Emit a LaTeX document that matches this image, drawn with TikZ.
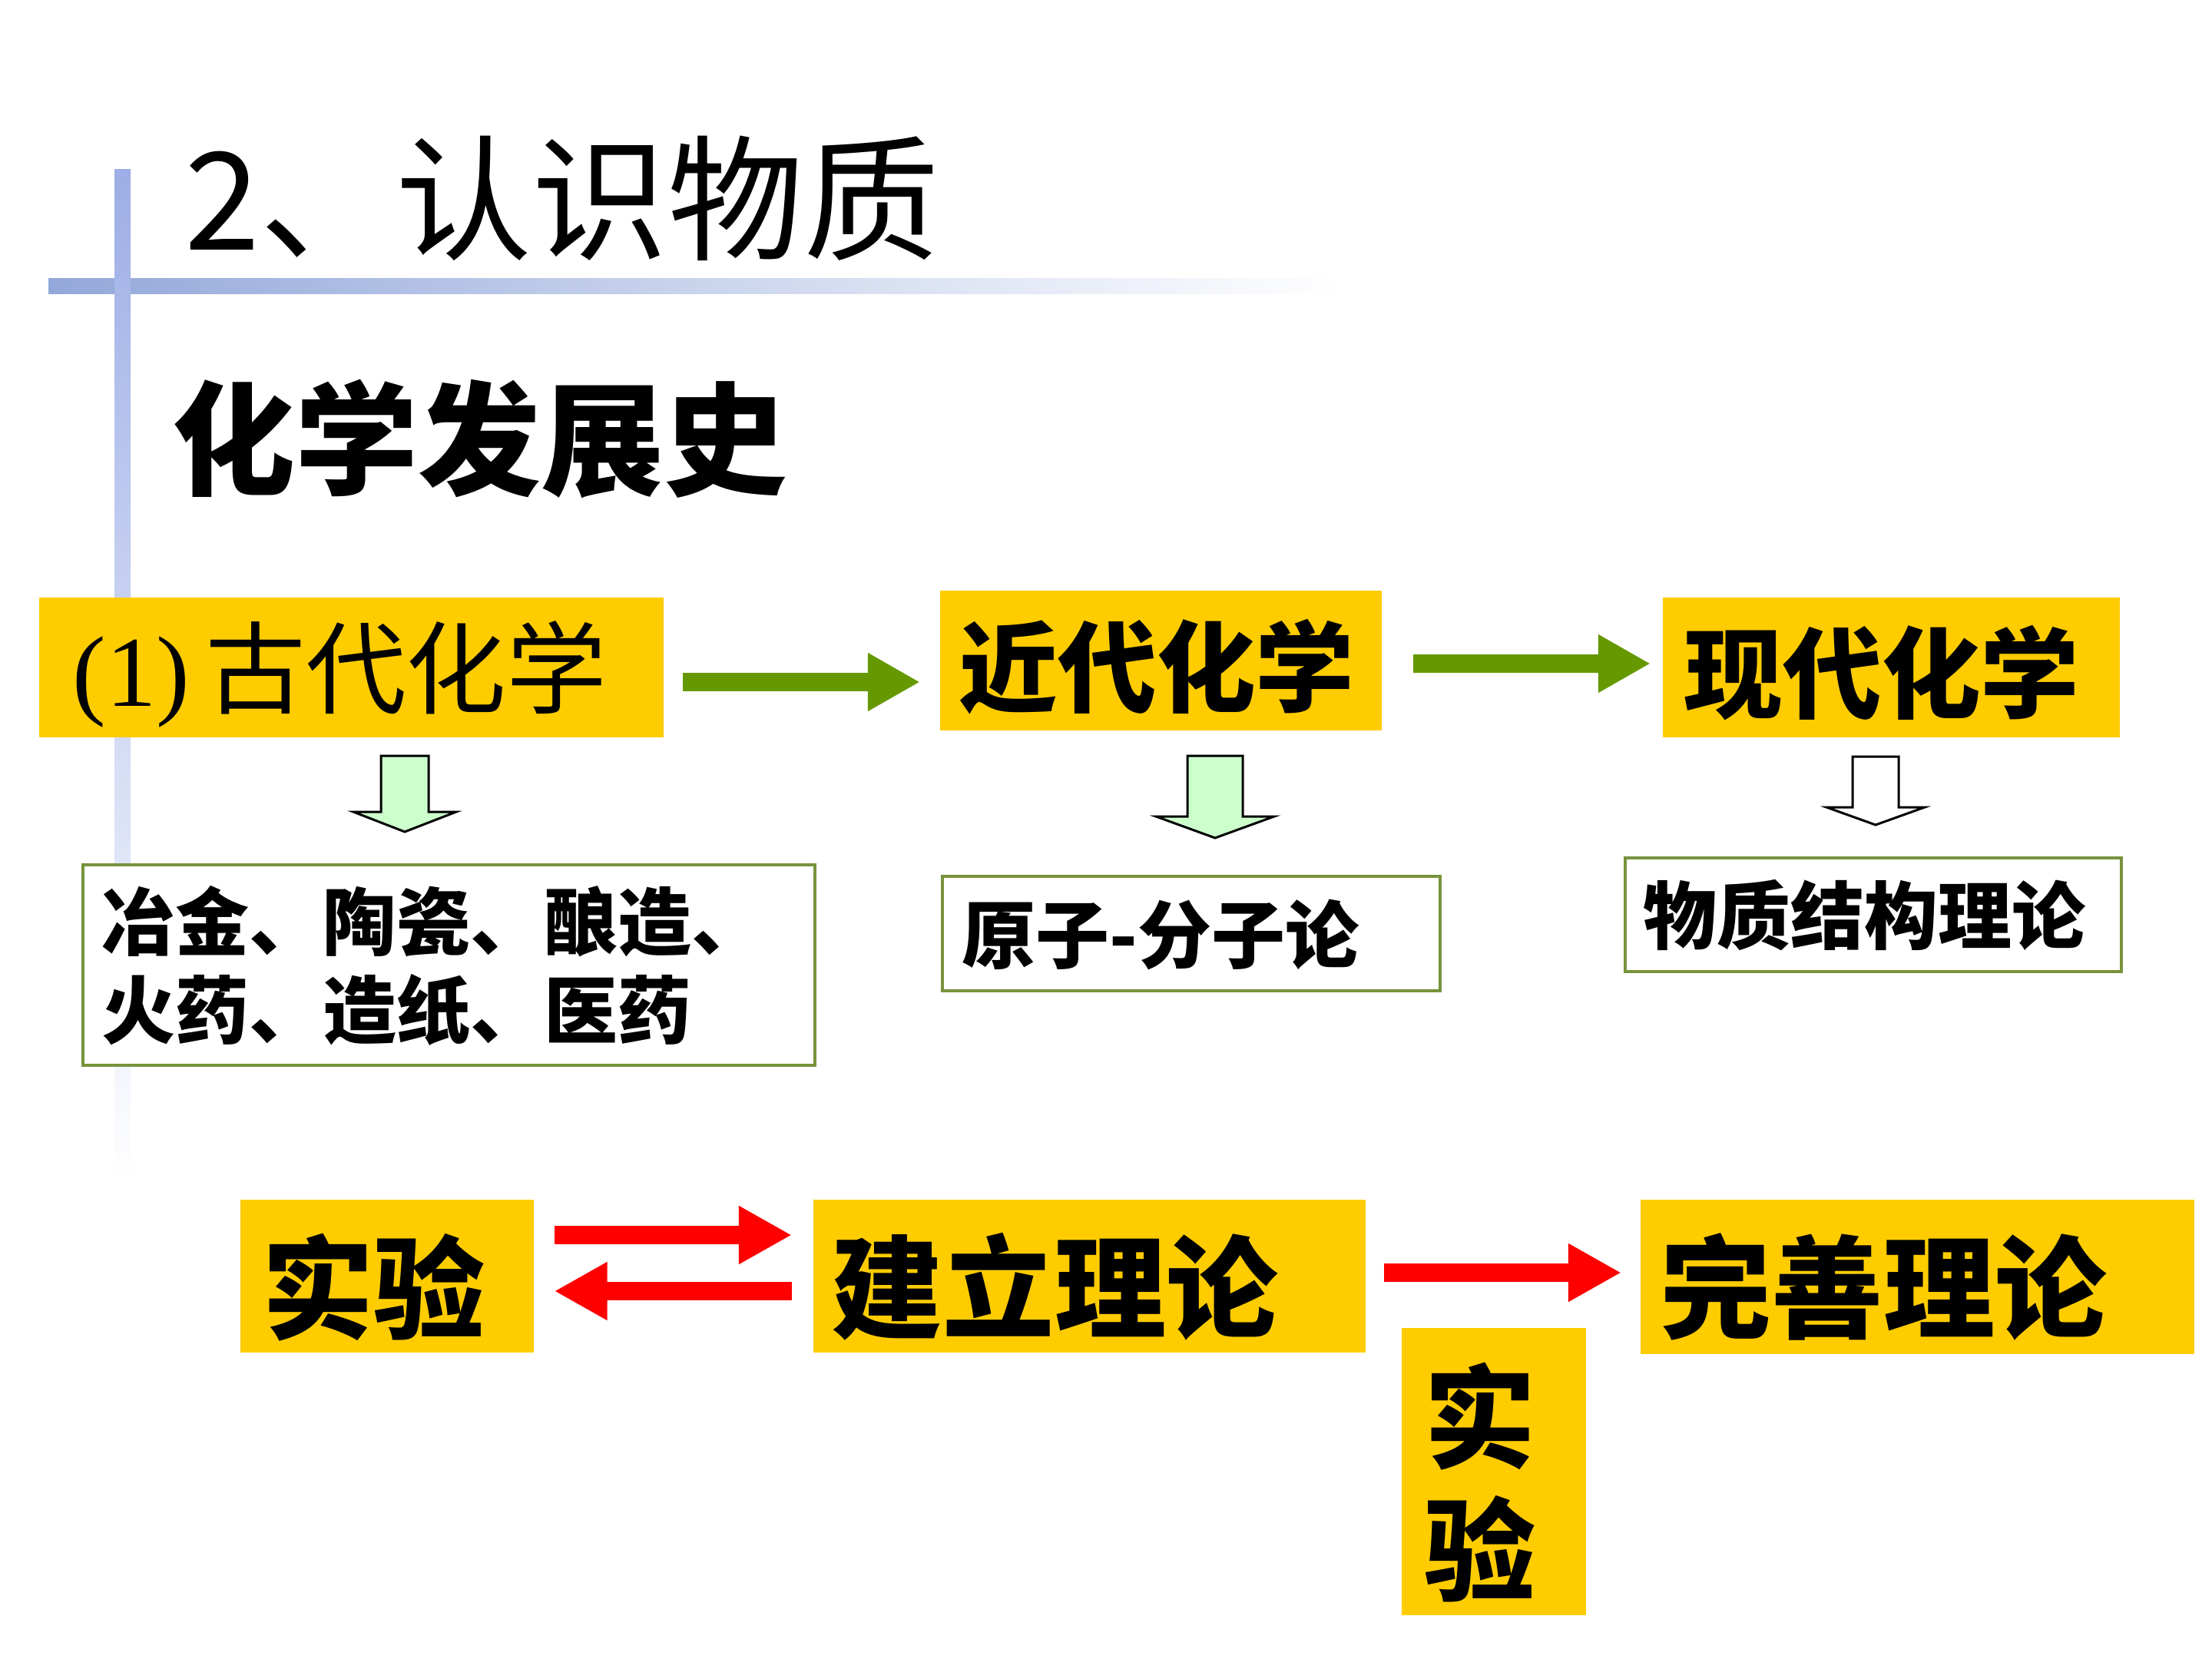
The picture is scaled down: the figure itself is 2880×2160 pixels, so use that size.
\documentclass[tikz,border=0pt]{standalone}
\usepackage{fontspec}
\newfontfamily\cjk{Noto Sans CJK SC}
\newfontfamily\lib{Liberation Serif}
\usetikzlibrary{arrows.meta,calc}
\definecolor{ygold}{HTML}{FFCC00}
\definecolor{agreen}{HTML}{669900}
\definecolor{bgreen}{HTML}{77933C}
\definecolor{lgreen}{HTML}{CCFFCC}
\definecolor{dblue}{HTML}{93A8DA}
\definecolor{vblue}{HTML}{9DAEE6}
\definecolor{mblue}{HTML}{C4CFEE}
\newcommand\blockdown[7]{%
  \filldraw[fill=#7, draw=black, line width=0.03cm, line join=miter]
    (#1-#5,#2) -- (#1+#5,#2) -- (#1+#5,#3) -- (#1+#6,#3) -- (#1,#4)
    -- (#1-#6,#3) -- (#1-#5,#3) -- cycle;}
\tikzset{
  ybox/.style={fill=ygold, draw=none, inner sep=0pt, anchor=north west},
  gbox/.style={fill=white, draw=bgreen, line width=0.04cm, inner sep=0pt, anchor=north west},
  txt/.style={inner sep=0pt, anchor=west},
  garrow/.style={agreen, line width=0.24cm, -{Triangle[length=0.68cm, width=0.71cm]}},
  rarrow/.style={red, line width=0.235cm, -{Triangle[length=0.69cm, width=0.71cm]}},
}
\begin{document}
\begin{tikzpicture}[x=0.01cm,y=-0.01cm]
\useasboundingbox (0,0) rectangle (2880,2160);
% decorative bars
\shade[left color=dblue, middle color=mblue, right color=white] (63,362) rectangle (1750,382);
\shade[top color=vblue, middle color=mblue!70!white, bottom color=white] (149,220) rectangle (170,1540);
% titles
\node[txt, font=\cjk\fontsize{50.3pt}{60pt}\selectfont] (title) at (240,258) {2、认识物质};
\node[txt, font=\cjk\bfseries\fontsize{45.5pt}{55pt}\selectfont] (sub) at (224,572) {化学发展史};
% top row boxes
\node[ybox, minimum width=8.13cm, minimum height=1.82cm] (b1) at (50,777) {};
\node[ybox, minimum width=5.75cm, minimum height=1.82cm] (b2) at (1223,768) {};
\node[ybox, minimum width=5.95cm, minimum height=1.82cm] (b3) at (2164,777) {};
\node[txt, font=\fontsize{37.2pt}{44pt}\selectfont] (t1) at (94,878) {{\lib (1)}\hspace{0.2cm}{\cjk 古代化学}};
\node[txt, font=\cjk\bfseries\fontsize{36.6pt}{44pt}\selectfont] (t2) at (1248,868) {近代化学};
\node[txt, font=\cjk\bfseries\fontsize{36.6pt}{44pt}\selectfont] (t3) at (2192,876) {现代化学};
% green arrows
\coordinate (gy1) at (0,888);
\coordinate (gy2) at (0,864);
\draw[garrow, shorten <=0.24cm, shorten >=0.25cm] (b1.east |- gy1) -- (b2.west |- gy1);
\draw[garrow, shorten <=0.40cm, shorten >=0.15cm] (b2.east |- gy2) -- (b3.west |- gy2);
% down block arrows
\blockdown{527}{984}{1057}{1083}{31}{67}{lgreen}
\blockdown{1582}{984}{1063}{1091}{36}{77}{lgreen}
\blockdown{2442}{985}{1051}{1074}{30}{64}{white}
% outline boxes
\node[gbox, minimum width=9.52cm, minimum height=2.61cm] (bA) at (106,1124) {};
\node[gbox, minimum width=6.48cm, minimum height=1.49cm] (bB) at (1225,1139) {};
\node[gbox, minimum width=6.46cm, minimum height=1.48cm] (bC) at (2114,1115) {};
\node[txt, align=left, font=\cjk\bfseries\fontsize{27.3pt}{32.7pt}\selectfont] (tA) at (132,1257) {冶金、陶瓷、酿造、\\火药、造纸、医药};
\node[txt, font=\cjk\bfseries\fontsize{27.3pt}{32.7pt}\selectfont] (tB) at (1252,1217) {原子-分子论};
\node[txt, font=\cjk\bfseries\fontsize{27.3pt}{32.7pt}\selectfont] (tC) at (2139,1192) {物质结构理论};
% bottom row
\node[ybox, minimum width=3.82cm, minimum height=1.99cm] (e1) at (312,1561) {};
\node[ybox, minimum width=7.19cm, minimum height=1.99cm] (e2) at (1058,1561) {};
\node[ybox, minimum width=7.21cm, minimum height=2.01cm] (e3) at (2135,1561) {};
\node[ybox, minimum width=2.40cm, minimum height=3.74cm] (e4) at (1824,1728) {};
\node[txt, font=\cjk\bfseries\fontsize{41.3pt}{49pt}\selectfont] (s1) at (341,1676) {实验};
\node[txt, font=\cjk\bfseries\fontsize{41.3pt}{49pt}\selectfont] (s2) at (1082,1675) {建立理论};
\node[txt, font=\cjk\bfseries\fontsize{41.3pt}{49pt}\selectfont] (s3) at (2161,1675) {完善理论};
\node[inner sep=0pt, align=center, font=\cjk\bfseries\fontsize{41.3pt}{49.2pt}\selectfont] (s4) at (1927,1930) {实\\验};
% red arrows
\coordinate (ry1) at (0,1608);
\coordinate (ry2) at (0,1681);
\coordinate (ry3) at (0,1657);
\draw[rarrow, shorten <=0.26cm, shorten >=0.27cm] (e1.east |- ry1) -- (e2.west |- ry1);
\draw[rarrow, shorten <=0.27cm, shorten >=0.26cm] (e2.west |- ry2) -- (e1.east |- ry2);
\draw[rarrow, shorten <=0.23cm, shorten >=0.24cm] (e2.east |- ry3) -- (e3.west |- ry3);
\end{tikzpicture}
\end{document}
